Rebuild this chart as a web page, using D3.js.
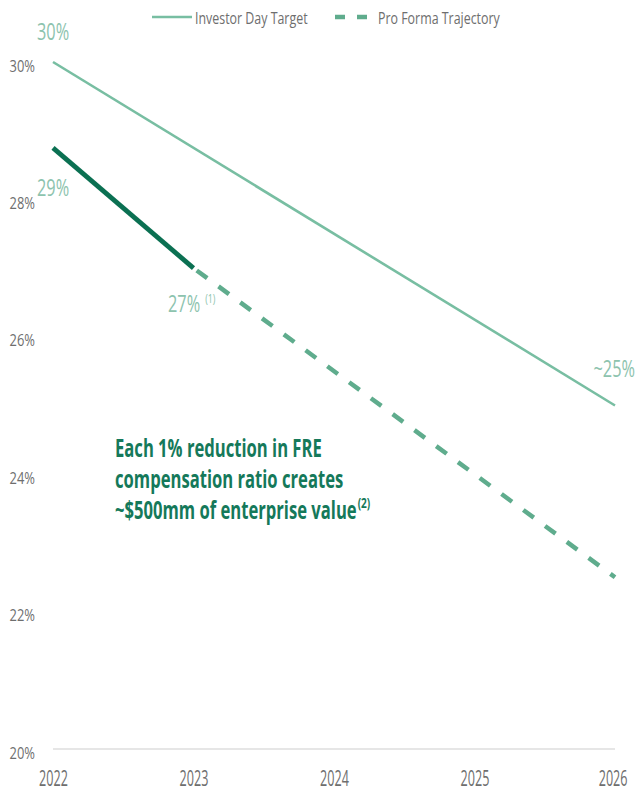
<!DOCTYPE html>
<html>
<head>
<meta charset="utf-8">
<script src="https://cdn.jsdelivr.net/npm/d3@7/dist/d3.min.js"></script>
<style>
  html, body { margin: 0; padding: 0; background: #fff; }
  svg { display: block; }
  text { font-family: "Open Sans", sans-serif; }
</style>
</head>
<body>
<svg id="chart" width="640" height="793"></svg>
<script>
// FRE compensation ratio, 2022–2026
const years = [2022, 2023, 2024, 2025, 2026];
const yTicks = [20, 22, 24, 26, 28, 30];

// Investor Day target: straight path from 30% to ~25%
const targetYears = [2022, 2026];
const targetValues = [30, 25];

// Actual ratio (solid) then pro forma trajectory (dashed)
const actualYears = [2022, 2023];
const actualValues = [28.75, 27];
const proFormaYears = [2023, 2026];
const proFormaValues = [27, 22.5];

const legendLabels = ["Investor Day Target", "Pro Forma Trajectory"];
const noteLines = ["Each 1% reduction in FRE", "compensation ratio creates", "~$500mm of enterprise value"];

const colTarget = "#78bea2";
const colDashed = "#5fac8d";
const colActual = "#0b7052";
const colLabel = "#8dc3ae";
const colAxis = "#6e6e6e";
const colNote = "#15795a";

const svg = d3.select("#chart");

// place a condensed text: anchor point (tx, ty), horizontal ratio k
function putText(parent, tx, ty, str, k, opts) {
  opts = opts || {};
  return parent.append("text")
    .attr("transform", `translate(${tx},${ty}) scale(${k},1)`)
    .attr("text-anchor", opts.anchor || "start")
    .attr("fill", opts.fill || colAxis)
    .style("font-size", opts.size + "px")
    .style("font-weight", opts.weight || "normal")
    .text(str);
}
const rightOf = sel => sel.node().getBoundingClientRect().right;

const x = d3.scaleLinear().domain([2022, 2026]).range([53, 615]);
const y = d3.scaleLinear().domain([20, 30]).range([749, 62]);

// baseline at 20%
svg.append("line")
  .attr("x1", 53).attr("x2", 615)
  .attr("y1", y(20)).attr("y2", y(20))
  .attr("stroke", "#e6e6e6").attr("stroke-width", 2);

// y axis labels
const yAxis = d3.axisLeft(y).tickValues(yTicks).tickFormat(d => d + "%").tickSize(0).tickPadding(0);
const gy = svg.append("g").attr("transform", "translate(35,3)").call(yAxis);
gy.select(".domain").remove();
gy.selectAll("text").attr("fill", colAxis).style("font-size", "17px")
  .attr("dy", "0.36em").attr("transform", "scale(0.76,1)");

// x axis labels
const xAxis = d3.axisBottom(x).tickValues(years).tickFormat(d3.format("d")).tickSize(0).tickPadding(0);
const gx = svg.append("g").attr("transform", "translate(0,786)").call(xAxis);
gx.select(".domain").remove();
gx.selectAll("text").attr("fill", colAxis).style("font-size", "21px")
  .attr("dy", "0").attr("transform", "scale(0.6,1)");
gx.selectAll(".tick").filter(d => d === 2026).select("text").attr("dx", -4);

const line = d3.line().x(d => x(d[0])).y(d => y(d[1]));
const pairs = (xs, vs) => xs.map((v, i) => [v, vs[i]]);

svg.append("path").datum(pairs(targetYears, targetValues))
  .attr("d", line).attr("fill", "none")
  .attr("stroke", colTarget).attr("stroke-width", 2.6);

svg.append("path").datum(pairs(proFormaYears, proFormaValues))
  .attr("d", line).attr("fill", "none")
  .attr("stroke", colDashed).attr("stroke-width", 4.5)
  .attr("stroke-dasharray", "13,14").attr("stroke-dashoffset", -4);

svg.append("path").datum(pairs(actualYears, actualValues))
  .attr("d", line).attr("fill", "none")
  .attr("stroke", colActual).attr("stroke-width", 4.8);

// value labels
const big = { fill: colLabel, size: 24 };
putText(svg, 37, 40, targetValues[0] + "%", 0.68, big);
putText(svg, 37, 196, Math.round(actualValues[0]) + "%", 0.68, big);
const l27 = putText(svg, 168, 312, actualValues[1] + "%", 0.68, big);
putText(svg, rightOf(l27) + 5, 303, "(1)", 0.68, { fill: colLabel, size: 13 });
putText(svg, 635, 377, "~" + targetValues[1] + "%", 0.68, Object.assign({ anchor: "end" }, big));

// annotation
let lastLine;
noteLines.forEach((t, i) => {
  lastLine = putText(svg, 115, 457 + i * 31, t, 0.665,
    { fill: colNote, size: 25, weight: "bold" });
});
putText(svg, rightOf(lastLine) + 1, 508, "(2)", 0.72,
  { fill: colNote, size: 14, weight: "bold" });

// legend
const lg = svg.append("g");
lg.append("line").attr("x1", 152).attr("x2", 192).attr("y1", 17).attr("y2", 17)
  .attr("stroke", colTarget).attr("stroke-width", 2.6);
putText(lg, 195, 24, legendLabels[0], 0.73, { size: 17 });
lg.append("line").attr("x1", 335).attr("x2", 367).attr("y1", 17).attr("y2", 17)
  .attr("stroke", colDashed).attr("stroke-width", 4.5).attr("stroke-dasharray", "10,12");
putText(lg, 378, 24, legendLabels[1], 0.73, { size: 17 });
</script>
</body>
</html>
